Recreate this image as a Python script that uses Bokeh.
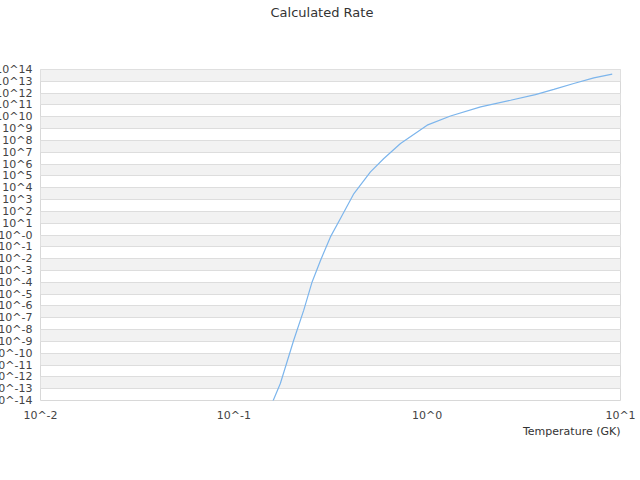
from bokeh.plotting import figure
from bokeh.models import FixedTicker, CustomJSTickFormatter, ColumnDataSource, Title
from bokeh.embed import file_html
from bokeh.resources import INLINE

# Temperature (GK) and calculated rate
temperature = [0.150, 0.160, 0.174, 0.204, 0.230, 0.254, 0.281, 0.316, 0.356,
               0.418, 0.509, 0.597, 0.728, 1.00, 1.32, 1.89, 2.70, 3.63,
               4.52, 5.73, 7.28, 9.06]
rate = [1.0e-15, 1.05e-14, 2.75e-13, 1.26e-9, 4.4e-7, 1.07e-4, 7.4e-3, 0.69, 25.0,
        3.2e3, 2.2e5, 2.95e6, 5.5e7, 1.95e9, 1.17e10, 6.9e10, 2.5e11, 7.6e11,
        2.1e12, 6.6e12, 1.95e13, 4.0e13]

title_text = "Calculated Rate"
x_label_text = "Temperature (GK)"

y_exponents = list(range(-14, 15))
x_exponents = [-2, -1, 0, 1]
y_ticks = [10.0 ** e for e in y_exponents]
x_ticks = [10.0 ** e for e in x_exponents]
band_ticks = [10.0 ** e for e in range(-13, 15)]

src = ColumnDataSource(dict(t=temperature, r=rate))

p = figure(
    x_axis_type="log", y_axis_type="log",
    x_range=(1e-2, 1e1), y_range=(1e-14, 1e14),
    frame_width=580, frame_height=331,
    min_border_left=49, min_border_right=20, min_border_top=0, min_border_bottom=60,
    output_backend="svg", toolbar_location=None,
)
p.margin = (0, 0, 0, -12)

p.line("t", "r", source=src, line_color="#7cb5ec", line_width=1.2)

font = "DejaVu Sans"
p.title.text = title_text
p.title.text_font = font
p.title.text_font_size = "13px"
p.title.text_font_style = "normal"
p.title.text_color = "#333333"
p.title.align = "left"
p.title.offset = 230
p.title.standoff = 4

# blank spacer between the title and the plot area
p.add_layout(Title(text=" ", text_font=font, text_font_size="13px", standoff=31), "above")

p.outline_line_color = "#d8d8d8"
p.outline_line_width = 1

for ax in (p.xaxis[0], p.yaxis[0]):
    ax.axis_line_color = None
    ax.major_tick_line_color = None
    ax.minor_tick_line_color = None
    ax.major_tick_in = 0
    ax.major_tick_out = 0
    ax.minor_tick_in = 0
    ax.minor_tick_out = 0
    ax.major_label_text_font = font
    ax.major_label_text_font_size = "11px"
    ax.major_label_text_color = "#444444"

p.yaxis[0].ticker = FixedTicker(ticks=y_ticks)
p.yaxis[0].major_label_standoff = 8
p.yaxis[0].formatter = CustomJSTickFormatter(code="""
const e = Math.round(Math.log10(tick));
return e === 0 ? '10^-0' : '10^' + e;
""")

p.xaxis[0].ticker = FixedTicker(ticks=x_ticks)
p.xaxis[0].major_label_standoff = 8
p.xaxis[0].formatter = CustomJSTickFormatter(code="""
return '10^' + Math.round(Math.log10(tick));
""")

p.add_layout(Title(text=x_label_text, align="right", text_font=font,
                   text_font_size="11px", text_font_style="normal",
                   text_color="#333333", standoff=-4), "below")

p.xgrid.grid_line_color = None
p.ygrid.ticker = FixedTicker(ticks=band_ticks)
p.ygrid.grid_line_color = "#dddddd"
p.ygrid.grid_line_width = 1
p.ygrid.band_fill_color = "#f2f2f2"
p.ygrid.band_fill_alpha = 1.0

open("out.html", "w").write(file_html(p, INLINE))
